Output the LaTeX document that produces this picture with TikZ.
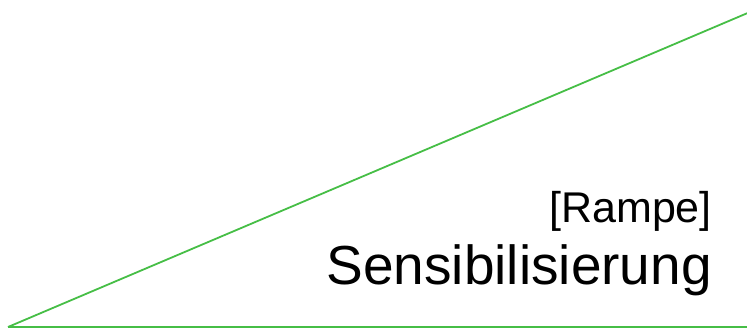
\documentclass[tikz,border=0pt]{standalone}
\usepackage{fontspec}
\setmainfont{Liberation Sans}
\definecolor{rampgreen}{RGB}{70,190,70}
\begin{document}
\begin{tikzpicture}[x=1pt,y=-1pt,
  ramp/.style={draw=rampgreen,line width=1.8pt},
  lbl/.style={anchor=base east,inner sep=0pt,text=black}]
\useasboundingbox (0,0) rectangle (747,330);
\coordinate (o) at (8,327);
\coordinate (t) at (750,12);
\coordinate (r) at (750,327);
\draw[ramp] (o) -- (t);
\draw[ramp] (o) -- (r);
\node[lbl,font=\fontsize{43}{43}\selectfont] (rampe) at (712,222) {[Rampe]};
\node[lbl,font=\fontsize{55}{55}\selectfont] (sens) at (712,284) {Sensibilisierung};
\end{tikzpicture}
\end{document}
